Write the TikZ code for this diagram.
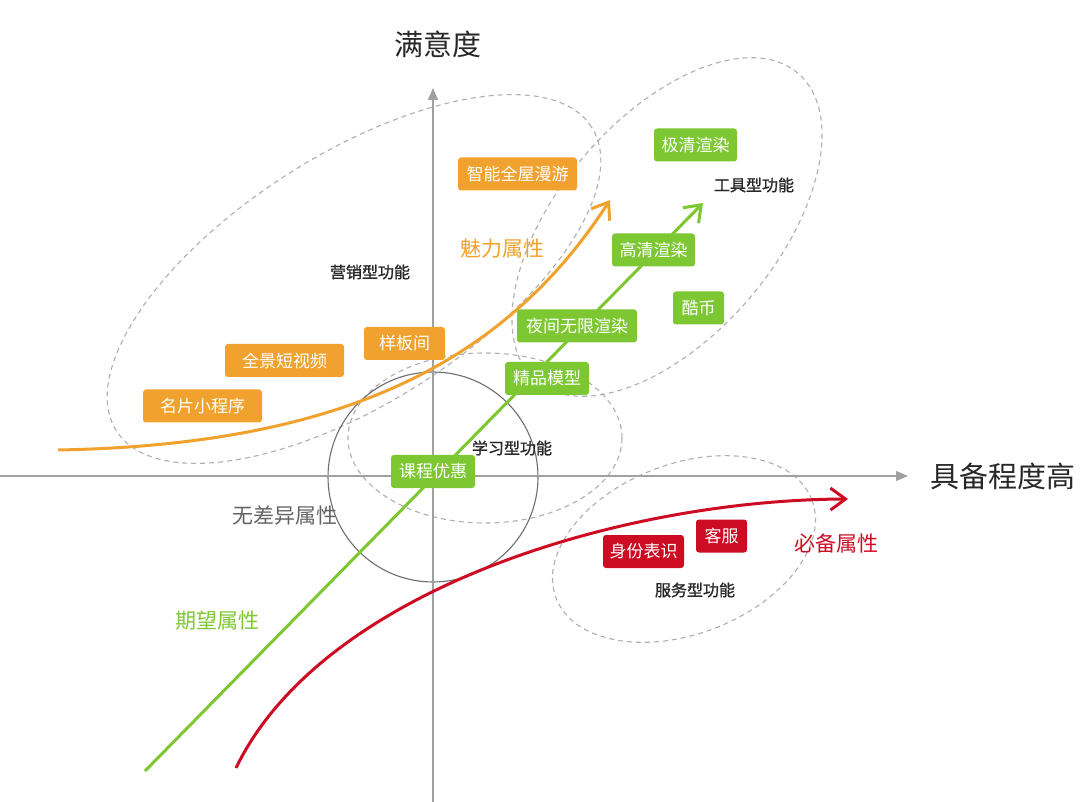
\documentclass[tikz,border=0pt]{standalone}
\usepackage{fontspec}
\setmainfont{Noto Sans CJK SC}
\newfontfamily\lblfont[FakeBold=1.2]{Noto Sans CJK SC}
\usetikzlibrary{arrows.meta}
\definecolor{cOr}{RGB}{240,161,46}
\definecolor{cGr}{RGB}{125,200,50}
\definecolor{cRd}{RGB}{205,12,36}
\definecolor{cDash}{RGB}{175,175,175}
\definecolor{cAxis}{RGB}{160,160,160}
\definecolor{cCirc}{RGB}{110,110,110}
\definecolor{cTxt}{RGB}{40,40,40}
\definecolor{cGray}{RGB}{100,100,100}
\begin{document}
\begin{tikzpicture}[x=1pt,y=-1pt,
  box/.style={rounded corners=3pt, minimum height=33pt, inner sep=0pt, text=white, font=\fontsize{17}{17}\selectfont},
  obox/.style={box, fill=cOr},
  gbox/.style={box, fill=cGr},
  rbox/.style={box, fill=cRd},
  zone/.style={draw=cDash, line width=1.1pt, dash pattern=on 5pt off 4pt},
  lab/.style={text=cTxt, font=\lblfont\fontsize{16}{16}\selectfont, inner sep=0pt},
  attr/.style={font=\fontsize{21}{21}\selectfont, inner sep=0pt},
  axlab/.style={text=cTxt, font=\fontsize{29}{29}\selectfont, inner sep=0pt},
  axisline/.style={draw=cAxis, line width=1.2pt, -{Triangle[length=12pt,width=10pt]}},
  curve/.style={line width=3pt, -{Straight Barb[length=15pt,width=22pt]}}
]
\useasboundingbox (0,0) rectangle (1080,802);
\fill[white] (0,0) rectangle (1080,802);

% zones
\draw[zone, rotate around={32.6:(354,279)}] (354,279) ellipse [x radius=282pt, y radius=124pt];
\draw[zone, rotate around={49.6:(667,227)}] (667,227) ellipse [x radius=202pt, y radius=109pt];
\draw[zone] (485,438) ellipse [x radius=137pt, y radius=85pt];
\draw[zone, rotate around={21:(684,549)}] (684,549) ellipse [x radius=137pt, y radius=85pt];
\draw[draw=cCirc, line width=1.1pt] (433,477) circle [radius=105pt];

% axes
\coordinate (yb) at (433,802);
\coordinate (yt) at (433,88);
\coordinate (xl) at (0,476);
\coordinate (xr) at (908,476);
\draw[axisline] (yb) -- (yt);
\draw[axisline] (xl) -- (xr);
\node[axlab] (ylab) at (438,44) {满意度};
\node[axlab] (xlab) at (1003,476) {具备程度高};

% curves
\coordinate (o0) at (58,450);
\coordinate (o1) at (610,200);
\coordinate (g0) at (145,771);
\coordinate (g1) at (703,203);
\coordinate (r0) at (236,768);
\coordinate (r1) at (848,499);
\draw[curve, cOr] (o0) .. controls (330,445) and (500,370) .. (o1);
\draw[curve, cGr] (g0) -- (g1);
\draw[curve, cRd] (r0) .. controls (322,590) and (620,500) .. (r1);

% boxes
\node[obox, minimum width=119pt] (b1) at (517.5,174) {智能全屋漫游};
\node[obox, minimum width=81pt] (b2) at (404.5,343.5) {样板间};
\node[obox, minimum width=119pt] (b3) at (284.5,360.5) {全景短视频};
\node[obox, minimum width=119pt] (b4) at (202.5,406) {名片小程序};
\node[gbox, minimum width=83pt] (b5) at (695.5,145) {极清渲染};
\node[gbox, minimum width=83pt] (b6) at (653.5,250) {高清渲染};
\node[gbox, minimum width=51pt] (b7) at (698.5,308) {酷币};
\node[gbox, minimum width=120pt] (b8) at (577,326) {夜间无限渲染};
\node[gbox, minimum width=84pt] (b9) at (547,378.5) {精品模型};
\node[gbox, minimum width=84pt] (b10) at (433,471.5) {课程优惠};
\node[rbox, minimum width=81pt] (b11) at (643.5,551.5) {身份表识};
\node[rbox, minimum width=51pt] (b12) at (721.5,536) {客服};

% labels
\node[lab] (l1) at (754,185) {工具型功能};
\node[lab] (l2) at (370,272) {营销型功能};
\node[lab] (l3) at (512,448) {学习型功能};
\node[lab] (l4) at (695,590) {服务型功能};
\node[attr, text=cOr] (a1) at (502,249) {魅力属性};
\node[attr, text=cGray] (a2) at (285,516) {无差异属性};
\node[attr, text=cGr] (a3) at (217,621) {期望属性};
\node[attr, text=cRd] (a4) at (836,543) {必备属性};
\end{tikzpicture}
\end{document}
